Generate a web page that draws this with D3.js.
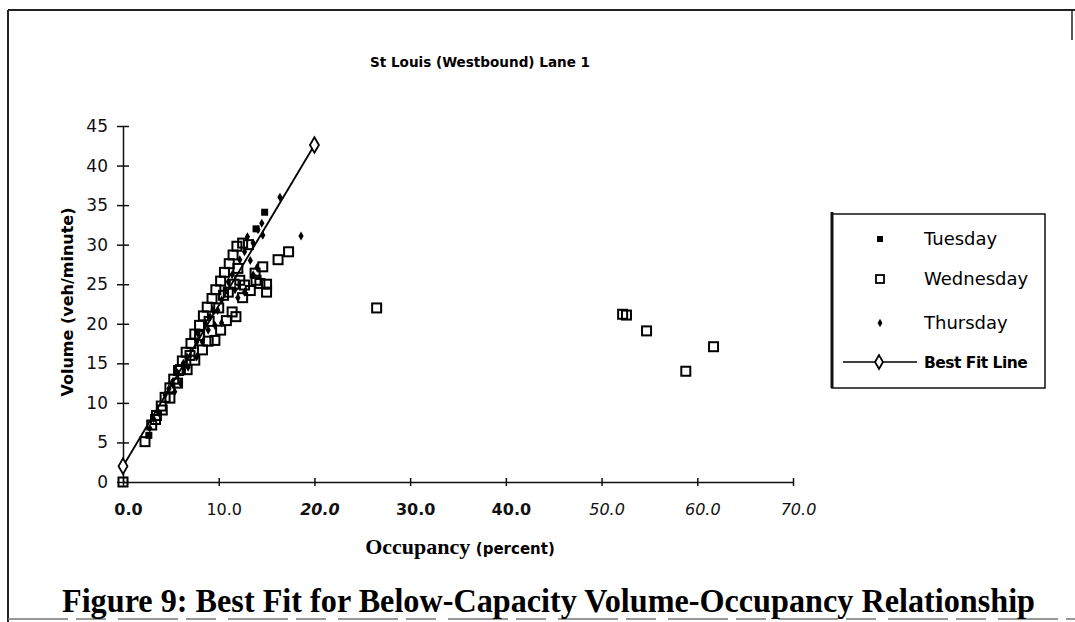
<!DOCTYPE html>
<html>
<head>
<meta charset="utf-8">
<script src="https://cdn.jsdelivr.net/npm/d3@7"></script>
<style>
  body { margin: 0; background: #fff; }
  svg { display: block; }
  .tick text { fill: #111; }
</style>
</head>
<body>
<svg width="1075" height="622"></svg>
<script>
// values: [occupancy %, volume veh/min]
var tuesday = [[2.7, 5.9], [14.8, 34.1], [13.9, 32.0]];

var wednesday = [
  [0, 0], [2.3, 5.1],
  [3.0, 7.2], [3.5, 8.4], [4.0, 9.6], [4.4, 10.7], [4.9, 11.9], [5.3, 13.0], [5.8, 14.1],
  [6.2, 15.3], [6.6, 16.4], [7.1, 17.5], [7.5, 18.7], [8.0, 19.8], [8.4, 21.0], [8.8, 22.1],
  [9.3, 23.2], [9.7, 24.3], [10.2, 25.4], [10.6, 26.5], [11.1, 27.6], [11.5, 28.7], [11.9, 29.8],
  [12.5, 30.2], [13.1, 30.0],
  [3.4, 7.9], [4.1, 9.1], [4.9, 10.6], [5.7, 12.5], [6.7, 14.2], [7.5, 15.4], [8.3, 16.7],
  [8.9, 17.8], [9.6, 17.9], [10.2, 19.2], [10.8, 20.4], [11.4, 21.5], [11.8, 20.9], [12.5, 23.3],
  [12.2, 25.5], [12.7, 24.9], [13.3, 24.2], [13.9, 25.5], [14.3, 25.1], [15.0, 25.0], [15.0, 24.0],
  [14.6, 27.2], [13.8, 26.4], [16.2, 28.1], [17.3, 29.1],
  [6.0, 14.2], [7.0, 16.0], [8.0, 18.5], [9.0, 20.3], [10.0, 22.0], [10.5, 23.6], [11.0, 24.0],
  [11.6, 25.0], [12.0, 27.0],
  [26.5, 22.0], [52.2, 21.2], [52.6, 21.1], [54.7, 19.1], [58.8, 14.0], [61.7, 17.1]
];

var thursday = [
  [2.8, 6.8], [3.2, 8.0], [3.7, 8.8], [4.4, 11.0], [4.8, 11.8], [5.1, 12.5], [5.4, 11.4], [5.7, 13.8],
  [6.0, 12.5], [6.3, 15.0], [6.7, 15.8], [6.8, 14.5], [7.7, 15.8], [7.7, 17.7], [7.8, 18.8], [8.3, 17.7],
  [8.6, 20.1], [8.9, 19.2], [9.1, 20.9], [9.4, 21.7], [9.6, 19.8], [9.9, 21.7], [10.3, 20.1], [10.3, 23.0],
  [10.7, 24.3], [11.0, 25.3], [11.4, 26.2], [11.7, 24.3], [12.0, 23.3], [12.2, 28.1], [12.7, 29.1],
  [12.7, 24.0], [13.0, 31.0], [13.3, 28.0], [13.6, 30.2], [13.6, 26.2], [14.0, 27.1], [14.1, 31.9],
  [14.5, 32.7], [14.6, 31.2], [16.4, 36.0], [18.6, 31.1]
];

var bestFit = [[0, 2.0], [20, 42.6]];

var xTicks = [0, 10, 20, 30, 40, 50, 60, 70];
var yTicks = [0, 5, 10, 15, 20, 25, 30, 35, 40, 45];
var legendNames = ["Tuesday", "Wednesday", "Thursday", "Best Fit Line"];

var svg = d3.select("svg");

// page frame of the scan
svg.append("line").attr("x1", 8).attr("x2", 1075).attr("y1", 10).attr("y2", 10)
  .attr("stroke", "#222").attr("stroke-width", 2);
svg.append("line").attr("x1", 8).attr("x2", 8).attr("y1", 10).attr("y2", 622)
  .attr("stroke", "#222").attr("stroke-width", 2);
svg.append("line").attr("x1", 1072).attr("x2", 1072).attr("y1", 10).attr("y2", 40)
  .attr("stroke", "#222").attr("stroke-width", 1.5);
svg.append("line").attr("x1", 8).attr("x2", 1075).attr("y1", 619).attr("y2", 619)
  .attr("stroke", "#777").attr("stroke-width", 1.5).attr("stroke-dasharray", "60,8,30,12");

var xScale = d3.scaleLinear().domain([0, 70]).range([123, 793]);
var yScale = d3.scaleLinear().domain([0, 45]).range([482, 126]);

// x axis
var xAxis = d3.axisBottom(xScale).tickValues(xTicks).tickSize(0).tickPadding(22)
  .tickFormat(d3.format(".1f"));
var xAxisG = svg.append("g").attr("id", "xAxisG").attr("transform", "translate(0,482)").call(xAxis);
xAxisG.select(".domain").attr("stroke", "#111").attr("stroke-width", 1.5);
xAxisG.selectAll(".tick line").attr("y1", -4).attr("y2", 4).attr("stroke", "#111").attr("stroke-width", 1.5);
xAxisG.selectAll(".tick text")
  .attr("dx", 5)
  .style("font-family", "'DejaVu Sans', sans-serif")
  .style("font-size", "16px")
  .style("font-style", function (d) { return (d == 20 || d >= 50) ? "italic" : "normal" })
  .style("font-weight", function (d) { return (d == 0 || d == 20 || d == 30 || d == 40) ? "bold" : "normal" });

// y axis
var yAxis = d3.axisLeft(yScale).tickValues(yTicks).tickSize(0).tickPadding(15);
var yAxisG = svg.append("g").attr("id", "yAxisG").attr("transform", "translate(123,0)").call(yAxis);
yAxisG.select(".domain").attr("stroke", "#111").attr("stroke-width", 1.5);
yAxisG.selectAll(".tick line").attr("x1", -6).attr("x2", 6).attr("stroke", "#111").attr("stroke-width", 1.5);
yAxisG.selectAll(".tick text")
  .style("font-family", "'DejaVu Sans', sans-serif")
  .style("font-size", "17px");

// titles
svg.append("text").attr("x", 480).attr("y", 67).attr("text-anchor", "middle")
  .style("font-family", "'DejaVu Sans', sans-serif").style("font-size", "13.5px").style("font-weight", "bold")
  .attr("textLength", 220).attr("lengthAdjust", "spacingAndGlyphs")
  .text("St Louis (Westbound) Lane 1");

svg.append("text").attr("transform", "translate(73,302) rotate(-90)").attr("text-anchor", "middle")
  .style("font-family", "'DejaVu Sans', sans-serif").style("font-size", "16px").style("font-weight", "bold")
  .text("Volume (veh/minute)");

var xTitle = svg.append("text").attr("x", 460).attr("y", 554).attr("text-anchor", "middle");
xTitle.append("tspan").style("font-family", "'Liberation Serif', serif").style("font-size", "22px")
  .style("font-weight", "bold").text("Occupancy ");
xTitle.append("tspan").style("font-family", "'DejaVu Sans', sans-serif").style("font-size", "15px")
  .style("font-weight", "bold").text("(percent)");

svg.append("text").attr("x", 62).attr("y", 612)
  .attr("textLength", 973).attr("lengthAdjust", "spacingAndGlyphs")
  .style("font-family", "'Liberation Serif', serif").style("font-size", "33px").style("font-weight", "bold")
  .text("Figure 9:  Best Fit for Below-Capacity Volume-Occupancy Relationship");

// series
var diamond = d3.symbol().type(d3.symbolDiamond);

svg.selectAll("rect.tuesday").data(tuesday).enter().append("rect").attr("class", "tuesday")
  .attr("x", function (d) { return xScale(d[0]) - 3.5 })
  .attr("y", function (d) { return yScale(d[1]) - 3.5 })
  .attr("width", 7).attr("height", 7).style("fill", "black");

svg.selectAll("rect.wednesday").data(wednesday).enter().append("rect").attr("class", "wednesday")
  .attr("x", function (d) { return xScale(d[0]) - 4.5 })
  .attr("y", function (d) { return yScale(d[1]) - 4.5 })
  .attr("width", 9).attr("height", 9)
  .style("fill", "none").style("stroke", "black").style("stroke-width", 2);

svg.selectAll("path.thursday").data(thursday).enter().append("path").attr("class", "thursday")
  .attr("d", diamond.size(24))
  .attr("transform", function (d) { return "translate(" + xScale(d[0]) + "," + yScale(d[1]) + ")" })
  .style("fill", "black");

var line = d3.line().x(function (d) { return xScale(d[0]) }).y(function (d) { return yScale(d[1]) });
svg.append("path").datum(bestFit).attr("d", line)
  .style("fill", "none").style("stroke", "black").style("stroke-width", 1.8);
svg.selectAll("path.fit").data(bestFit).enter().append("path").attr("class", "fit")
  .attr("d", diamond.size(70))
  .attr("transform", function (d) { return "translate(" + xScale(d[0]) + "," + yScale(d[1]) + ")" })
  .style("fill", "white").style("stroke", "black").style("stroke-width", 1.8);

// legend
var legend = svg.append("g").attr("id", "legend");
legend.append("rect").attr("x", 832).attr("y", 214).attr("width", 213).attr("height", 174)
  .style("fill", "white").style("stroke", "#111").style("stroke-width", 1.5);
legend.append("line").attr("x1", 832).attr("x2", 832).attr("y1", 212).attr("y2", 388)
  .style("stroke", "#111").style("stroke-width", 3);

var legendY = [239, 279, 323, 362];
legend.append("rect").attr("x", 877).attr("y", legendY[0] - 3).attr("width", 6).attr("height", 6).style("fill", "black");
legend.append("rect").attr("x", 876).attr("y", legendY[1] - 4).attr("width", 8).attr("height", 8)
  .style("fill", "none").style("stroke", "black").style("stroke-width", 1.8);
legend.append("path").attr("d", diamond.size(20)).attr("transform", "translate(880," + legendY[2] + ")").style("fill", "black");
legend.append("line").attr("x1", 843).attr("x2", 917).attr("y1", legendY[3]).attr("y2", legendY[3])
  .style("stroke", "black").style("stroke-width", 1.5);
legend.append("path").attr("d", diamond.size(55)).attr("transform", "translate(879," + legendY[3] + ")")
  .style("fill", "white").style("stroke", "black").style("stroke-width", 1.8);

legend.selectAll("text.leg").data(legendNames).enter().append("text").attr("class", "leg")
  .attr("x", 924).attr("y", function (d, i) { return legendY[i] + 6 })
  .style("font-family", "'DejaVu Sans', sans-serif")
  .style("font-size", function (d, i) { return i == 3 ? "15.5px" : "18px" })
  .style("font-weight", function (d, i) { return i == 3 ? "bold" : "normal" })
  .style("letter-spacing", function (d, i) { return i == 3 ? "-0.5px" : "0px" })
  .text(function (d) { return d });
</script>
</body>
</html>
